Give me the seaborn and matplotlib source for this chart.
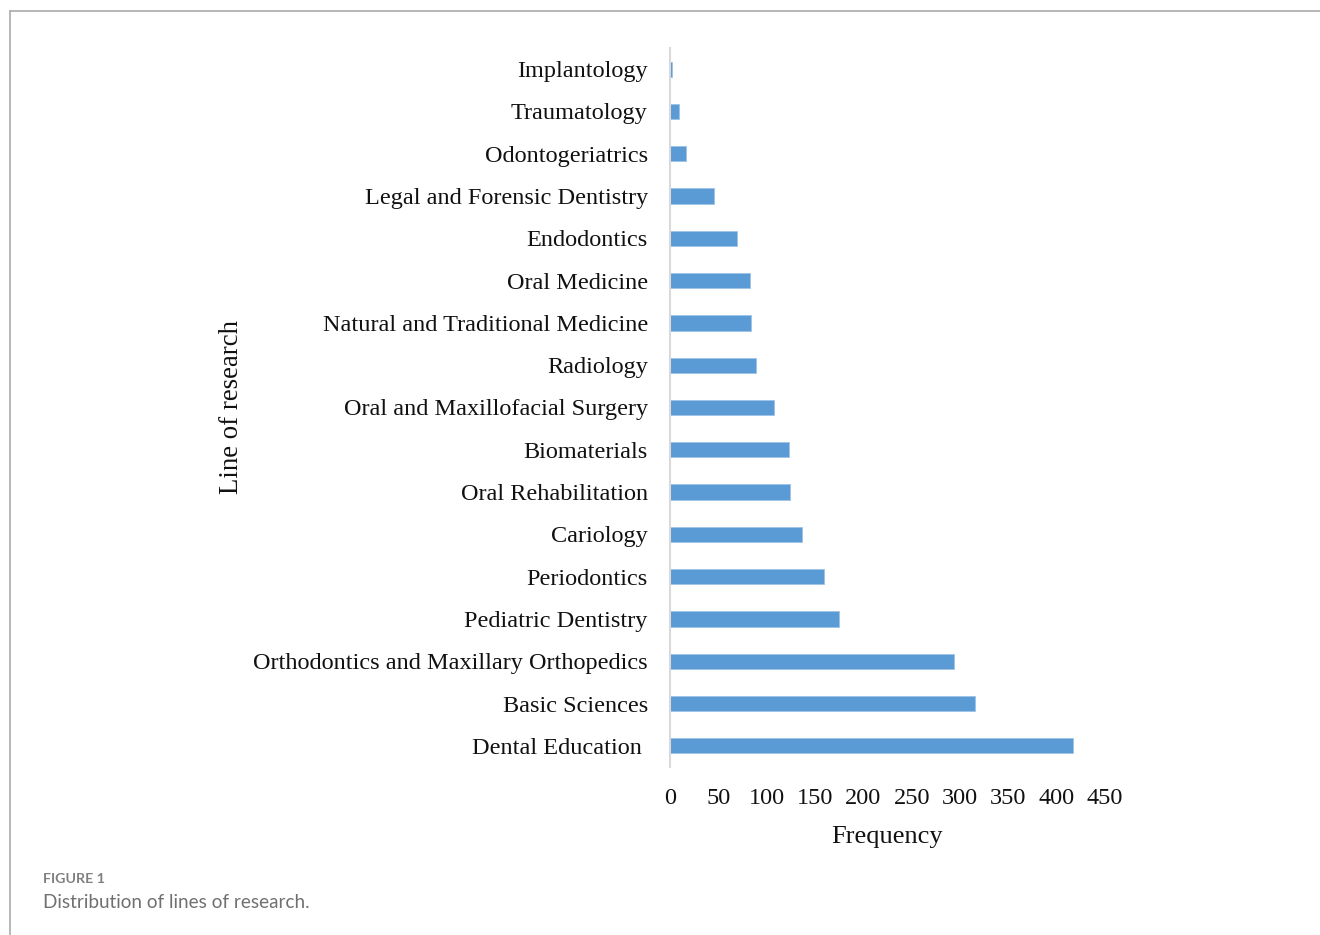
import matplotlib
matplotlib.use("Agg")
import matplotlib.pyplot as plt
import seaborn as sns
import pandas as pd
from matplotlib.lines import Line2D

categories = [
    "Implantology", "Traumatology", "Odontogeriatrics", "Legal and Forensic Dentistry",
    "Endodontics", "Oral Medicine", "Natural and Traditional Medicine", "Radiology",
    "Oral and Maxillofacial Surgery", "Biomaterials", "Oral Rehabilitation", "Cariology",
    "Periodontics", "Pediatric Dentistry", "Orthodontics and Maxillary Orthopedics",
    "Basic Sciences", "Dental Education ",
]
frequency = [2, 9, 17, 46, 69, 83, 84, 89, 108, 123, 124, 137, 159, 175, 294, 316, 417]
xticks = [0, 50, 100, 150, 200, 250, 300, 350, 400, 450]

df = pd.DataFrame({"Line of research": categories, "Frequency": frequency})

sns.set_theme(style="white")
plt.rcParams["font.family"] = ["Liberation Serif", "DejaVu Serif"]

W, H = 1320, 935
fig = plt.figure(figsize=(W / 100, H / 100), dpi=100)
ax = fig.add_axes([670 / W, 1 - 767 / H, (1105 - 670) / W, (767 - 48) / H])

sns.barplot(data=df, x="Frequency", y="Line of research", order=categories,
            color="#5B9BD5", saturation=1, width=0.36, ax=ax,
            edgecolor="#9DC3E6", linewidth=0.6)

ax.set_xlim(0, 450)
ax.set_xticks(xticks)
ax.set_xticklabels([str(t) for t in xticks], fontsize=17.5, color="#111111")
ax.tick_params(axis="x", length=0, pad=15)
ax.tick_params(axis="y", length=0, pad=16, labelsize=17.5, labelcolor="#111111")
for s in ["top", "right", "bottom"]:
    ax.spines[s].set_visible(False)
ax.spines["left"].set_color("#d9d9d9")
ax.spines["left"].set_linewidth(1.5)
ax.set_xlabel("Frequency", fontsize=19, color="#111111", labelpad=12)
ax.set_ylabel("")
fig.text(232 / W, 1 - 407 / H, "Line of research", rotation=90, fontsize=19.3,
         color="#111111", ha="center", va="center")

# outer frame lines
fig.add_artist(Line2D([10 / W, 1.0], [1 - 10.5 / H, 1 - 10.5 / H], color="#aaaaaa", lw=1.2,
                      transform=fig.transFigure))
fig.add_artist(Line2D([10 / W, 10 / W], [1 - 10.5 / H, 0.0], color="#aaaaaa", lw=1.2,
                      transform=fig.transFigure))

fig.text(43 / W, 1 - 879 / H, "FIGURE 1", fontsize=10.3, fontweight="bold",
         color="#808080", family=["Lato", "DejaVu Sans"], va="center", ha="left")
fig.text(43 / W, 1 - 902 / H, "Distribution of lines of research.", fontsize=13.6,
         color="#707070", family=["Lato", "DejaVu Sans"], va="center", ha="left")

fig.savefig("out.png", dpi=100, facecolor="white")
